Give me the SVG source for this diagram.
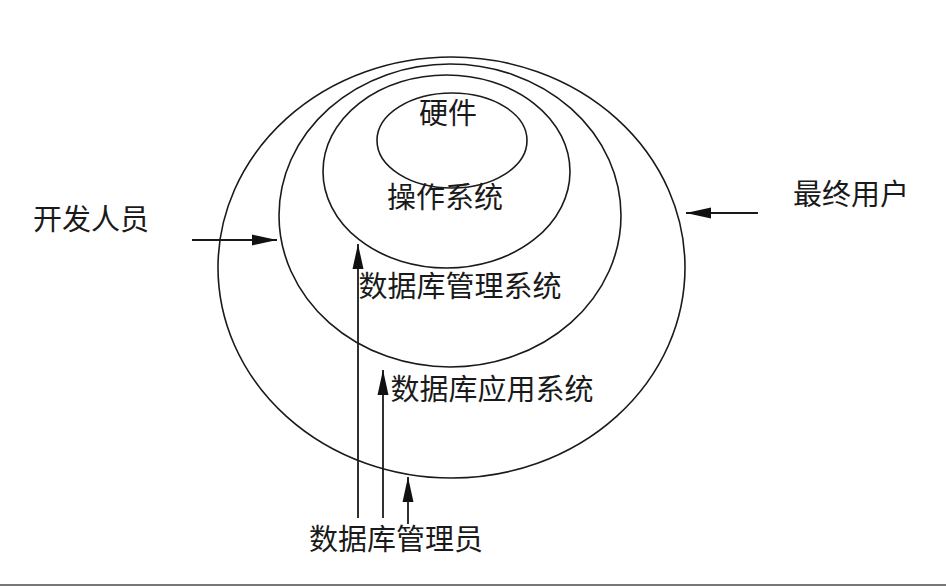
<svg xmlns="http://www.w3.org/2000/svg" width="946" height="586" viewBox="0 0 946 586">
<style>
.ring{fill:none;stroke:#1a1a1a;stroke-width:1.6}
.lbl{font-family:"Noto Sans CJK SC","Noto Sans",sans-serif;font-size:29px;fill:#1a1a1a;text-anchor:middle}
.conn{stroke:#1a1a1a;stroke-width:1.8;fill:none;marker-end:url(#ah)}
</style>
<defs>
<marker id="ah" markerUnits="userSpaceOnUse" markerWidth="26" markerHeight="14" refX="25" refY="7" orient="auto">
<path d="M0,1.5 L25,7 L0,12.5 Z" fill="#111"/>
</marker>
</defs>
<rect width="946" height="586" fill="#fff"/>
<g id="app-system">
<ellipse class="ring" cx="451.5" cy="267.5" rx="233.5" ry="210.5"/>
<text class="lbl" x="492" y="400">数据库应用系统</text>
</g>
<g id="dbms">
<ellipse class="ring" cx="450" cy="215.5" rx="171" ry="151.5"/>
<text class="lbl" x="460" y="297">数据库管理系统</text>
</g>
<g id="os">
<ellipse class="ring" cx="446.5" cy="171.5" rx="123.5" ry="96.5"/>
<text class="lbl" x="445" y="208">操作系统</text>
</g>
<g id="hardware">
<ellipse class="ring" cx="452" cy="140.5" rx="75" ry="47.5"/>
<text class="lbl" x="448" y="124">硬件</text>
</g>
<g id="developer">
<text class="lbl" x="91" y="230">开发人员</text>
</g>
<g id="end-user">
<text class="lbl" x="851" y="205">最终用户</text>
</g>
<g id="dba">
<text class="lbl" x="396" y="550">数据库管理员</text>
</g>
<g id="connectors">
<line class="conn" x1="192" y1="240" x2="277" y2="240"/>
<line class="conn" x1="758" y1="213" x2="686" y2="213"/>
<line class="conn" x1="358" y1="518" x2="358" y2="244"/>
<line class="conn" x1="383" y1="518" x2="383" y2="370"/>
<line class="conn" x1="408" y1="524" x2="408" y2="477"/>
</g>
<rect x="0" y="584" width="946" height="2" fill="#777"/>
</svg>
